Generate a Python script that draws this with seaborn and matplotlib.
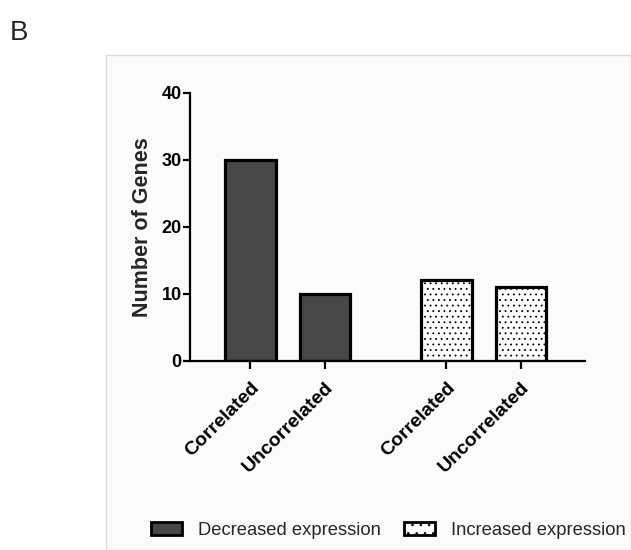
import matplotlib
matplotlib.use("Agg")
import matplotlib.pyplot as plt
from matplotlib.patches import Rectangle, Patch
import seaborn as sns
import pandas as pd

categories = ["Correlated", "Uncorrelated", "Correlated", "Uncorrelated"]
groups = ["Decreased expression", "Decreased expression",
          "Increased expression", "Increased expression"]
values = [30, 10, 12, 11]
group_names = ["Decreased expression", "Increased expression"]

sns.set_theme(style="white")
plt.rcParams['font.family'] = ['Liberation Sans', 'DejaVu Sans']
plt.rcParams['hatch.linewidth'] = 0.6

GROUP_GAP = 2.63
pos = []
counter = {}
for g in groups:
    gi = group_names.index(g)
    k = counter.get(g, 0)
    counter[g] = k + 1
    pos.append(gi * GROUP_GAP + k)

df = pd.DataFrame({"pos": pos, "value": values, "group": groups, "cat": categories})

fig = plt.figure(figsize=(6.31, 5.50), dpi=100)
fig.patch.set_facecolor("white")
# light panel frame
fig.patches.append(Rectangle((106 / 631, 0.0), 1 - 106 / 631, (550 - 55) / 550,
                             transform=fig.transFigure, facecolor="#fbfbfb",
                             edgecolor="#dcdcdc", linewidth=1.0, zorder=-10))
ax = fig.add_axes([190 / 631, (550 - 360.7) / 550, (585 - 190) / 631, (360.7 - 92.7) / 550])
ax.set_facecolor("none")

palette = {"Decreased expression": "#474747", "Increased expression": "white"}
sns.barplot(data=df, x="pos", y="value", hue="group", palette=palette,
            native_scale=True, dodge=False, width=0.68, legend=False,
            edgecolor="black", linewidth=2.3, saturation=1, ax=ax)

for p, g in zip(ax.patches, groups):
    if g == "Increased expression":
        p.set_hatch("...")

ax.set_xlim(-0.81, 4.49)
ax.set_ylim(0, 40)
ax.set_yticks([0, 10, 20, 30, 40])
ax.set_xticks(pos)
ax.set_xticklabels(categories, rotation=45, ha="right", rotation_mode="anchor",
                   fontweight="bold", fontsize=14)
for lab in ax.get_yticklabels():
    lab.set_fontweight("bold")
    lab.set_fontsize(13)
ax.set_xlabel("")
ax.set_ylabel("Number of Genes", fontsize=15.5, fontweight="bold", labelpad=6)

for s in ["top", "right"]:
    ax.spines[s].set_visible(False)
for s in ["left", "bottom"]:
    ax.spines[s].set_linewidth(1.6)
    ax.spines[s].set_color("black")
ax.tick_params(axis="y", direction="out", length=5, width=1.6, pad=1, colors="black")
ax.tick_params(axis="x", direction="out", length=6, width=1.6, pad=7, colors="black")
ax.yaxis.set_ticks_position("left")
ax.xaxis.set_ticks_position("bottom")

handles = [Patch(facecolor="#474747", edgecolor="black", linewidth=2.0),
           Patch(facecolor="white", edgecolor="black", linewidth=2.0, hatch="..")]
fig.legend(handles, group_names, loc="center", bbox_to_anchor=(0.615, 0.036),
           ncol=2, frameon=False, fontsize=13.2, handlelength=1.7, handleheight=0.76,
           columnspacing=1.25, handletextpad=0.87, borderpad=0.1)

fig.text(10 / 631, 1 - 40 / 550, "B", fontsize=20, ha="left", va="baseline")

fig.savefig("out.png", dpi=100)
